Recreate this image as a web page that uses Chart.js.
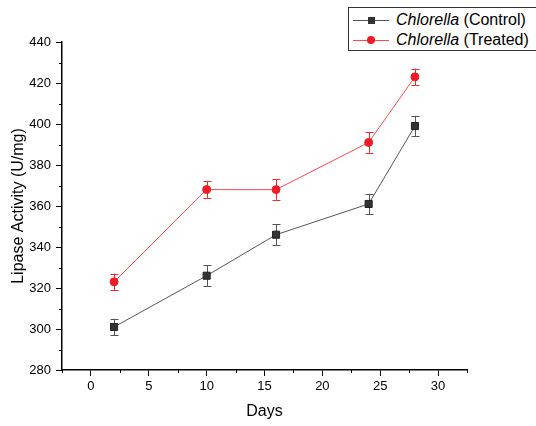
<!DOCTYPE html>
<html>
<head>
<meta charset="utf-8">
<script src="https://cdn.jsdelivr.net/npm/chart.js@4/dist/chart.umd.min.js"></script>
<style>
  html, body { margin: 0; padding: 0; background: #fff; }
  #wrap { position: relative; width: 536px; height: 426px; overflow: hidden; }
  #legend { position: absolute; left: 348px; top: 7px; width: 200px; height: 44px;
    border: 1px solid #333; background: #fff; font-family: "Liberation Sans", Arial, sans-serif;
    font-size: 16px; color: #000; box-sizing: border-box; }
  .row { position: absolute; left: 0; height: 20px; line-height: 20px; white-space: nowrap; }
  .ln { position: absolute; left: 4px; width: 36px; top: 10px; height: 1px; }
  .mk { position: absolute; }
  .tx { position: absolute; left: 47px; top: 0; }
</style>
</head>
<body>
<div id="wrap">
  <canvas id="c" width="536" height="426"></canvas>
  <div id="legend">
    <div class="row" style="top:2px;">
      <div class="ln" style="background:#555;"></div>
      <div class="mk" style="left:19px;top:7px;width:7px;height:7px;background:#333;"></div>
      <div class="tx"><i>Chlorella</i> (Control)</div>
    </div>
    <div class="row" style="top:22px;">
      <div class="ln" style="background:#ff4a4a;"></div>
      <div class="mk" style="left:18px;top:6px;width:8px;height:8px;border-radius:50%;background:#ee1c25;"></div>
      <div class="tx"><i>Chlorella</i> (Treated)</div>
    </div>
  </div>
</div>
<script>
const days = [2, 10, 16, 24, 28];
const controlValues = [301, 326, 346, 361, 399];
const controlErrors = [4, 5, 5, 5, 5];
const treatedValues = [323, 368, 368, 391, 423];
const treatedErrors = [4, 4, 5, 5, 4];
const xTickLabels = [0, 5, 10, 15, 20, 25, 30];
const yTickLabels = [280, 300, 320, 340, 360, 380, 400, 420, 440];
const xMinorTicks = [-2.5, 2.5, 7.5, 12.5, 17.5, 22.5, 27.5, 32.5];
const yMinorTicks = [290, 310, 330, 350, 370, 390, 410, 430];

const toPoints = (vals) => days.map((d, i) => ({ x: d, y: vals[i] }));

const errorBarPlugin = {
  id: 'errorBars',
  beforeDatasetsDraw(chart) {
    const ctx = chart.ctx;
    const xs = chart.scales.x, ys = chart.scales.y;
    chart.data.datasets.forEach((ds) => {
      ctx.save();
      ctx.strokeStyle = ds.errColor;
      ctx.lineWidth = 1;
      ds.data.forEach((p, i) => {
        const e = ds.errors[i];
        const px = Math.round(xs.getPixelForValue(p.x)) + 0.5;
        const top = ys.getPixelForValue(p.y + e);
        const bot = ys.getPixelForValue(p.y - e);
        ctx.beginPath();
        ctx.moveTo(px, top); ctx.lineTo(px, bot);
        ctx.moveTo(px - 4, Math.round(top) + 0.5); ctx.lineTo(px + 4, Math.round(top) + 0.5);
        ctx.moveTo(px - 4, Math.round(bot) + 0.5); ctx.lineTo(px + 4, Math.round(bot) + 0.5);
        ctx.stroke();
      });
      ctx.restore();
    });
  },
  afterDraw(chart) {
    const ctx = chart.ctx;
    const xs = chart.scales.x, ys = chart.scales.y;
    const area = chart.chartArea;
    ctx.save();
    ctx.strokeStyle = '#000';
    ctx.lineWidth = 1;
    ctx.beginPath();
    xMinorTicks.forEach(v => {
      const px = Math.round(xs.getPixelForValue(v)) + 0.5;
      ctx.moveTo(px, area.bottom); ctx.lineTo(px, area.bottom + 3);
    });
    yMinorTicks.forEach(v => {
      const py = Math.round(ys.getPixelForValue(v)) + 0.5;
      ctx.moveTo(area.left, py); ctx.lineTo(area.left - 3, py);
    });
    ctx.stroke();
    ctx.restore();
  }
};

const font = { family: '"Liberation Sans", Arial, sans-serif', size: 13 };

new Chart(document.getElementById('c'), {
  type: 'line',
  data: {
    datasets: [
      {
        label: 'Chlorella (Control)',
        data: toPoints(controlValues),
        errors: controlErrors,
        errColor: '#555',
        borderColor: '#555',
        borderWidth: 1,
        pointStyle: 'rect',
        pointRadius: 5,
        pointBackgroundColor: '#333',
        pointBorderColor: '#222',
        pointBorderWidth: 1,
        tension: 0
      },
      {
        label: 'Chlorella (Treated)',
        data: toPoints(treatedValues),
        errors: treatedErrors,
        errColor: '#ee2a2a',
        borderColor: '#ff4a4a',
        borderWidth: 1,
        pointStyle: 'circle',
        pointRadius: 4,
        pointBackgroundColor: '#ee1c25',
        pointBorderColor: '#ee1c25',
        pointBorderWidth: 1,
        tension: 0
      }
    ]
  },
  options: {
    responsive: false,
    animation: false,
    layout: { padding: { top: 42, right: 69, left: 0, bottom: 0 } },
    plugins: { legend: { display: false }, tooltip: { enabled: false } },
    scales: {
      x: {
        type: 'linear',
        min: -2.5,
        max: 32.5,
        afterBuildTicks(scale) { scale.ticks = xTickLabels.map(v => ({ value: v })); },
        afterFit(scale) { scale.height = 56; },
        grid: { display: true, drawOnChartArea: false, drawTicks: true, tickLength: 6, color: '#000' },
        border: { display: true, color: '#000', width: 1.5 },
        ticks: { color: '#000', font: font, padding: 3, maxRotation: 0 },
        title: { display: true, text: 'Days', color: '#000',
          font: { family: '"Liberation Sans", Arial, sans-serif', size: 16 },
          padding: { top: 0, bottom: 5 } }
      },
      y: {
        type: 'linear',
        min: 280,
        max: 440,
        afterBuildTicks(scale) { scale.ticks = yTickLabels.map(v => ({ value: v })); },
        afterFit(scale) { scale.width = 62; },
        grid: { display: true, drawOnChartArea: false, drawTicks: true, tickLength: 6, color: '#000' },
        border: { display: true, color: '#000', width: 1.5 },
        ticks: { color: '#000', font: font, padding: 5 },
        title: { display: true, text: 'Lipase Activity (U/mg)', color: '#000',
          font: { family: '"Liberation Sans", Arial, sans-serif', size: 16 },
          padding: { top: 9, bottom: 0 } }
      }
    }
  },
  plugins: [errorBarPlugin]
});
</script>
</body>
</html>
